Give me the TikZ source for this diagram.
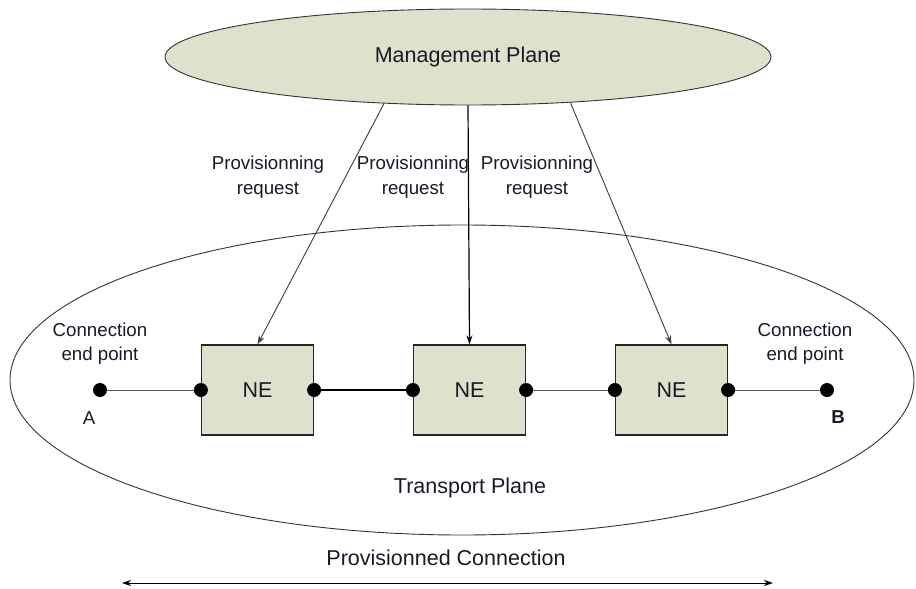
\documentclass[tikz,border=0pt]{standalone}
\usepackage{fontspec}
\setmainfont{Liberation Sans}
\usetikzlibrary{shapes.geometric,arrows.meta}
\definecolor{planefill}{RGB}{221,226,204}
\definecolor{txt}{RGB}{25,25,40}
\definecolor{edge}{RGB}{60,60,60}
\tikzset{
  bigtext/.style={font=\fontsize{21.5}{26}\selectfont, text=txt, inner sep=0pt},
  smalltext/.style={font=\fontsize{18.7}{24.5}\selectfont, text=txt, inner sep=0pt, align=center},
  nebox/.style={draw=black!85, line width=1.2pt, fill=planefill, minimum width=112pt, minimum height=90pt, inner sep=0pt, font=\fontsize{21.5}{26}\selectfont, text=txt},
  portdot/.style={circle, fill=black, minimum size=14pt, inner sep=0pt},
  req/.style={draw=edge, line width=0.9pt, -{Stealth[length=9pt,width=6pt]}},
  thinlink/.style={draw=black!65, line width=1pt},
  thicklink/.style={draw=black, line width=2pt}
}
\begin{document}
\begin{tikzpicture}[x=1pt,y=-1pt]
\useasboundingbox (0,0) rectangle (916,589);
% transport plane
\node[ellipse, draw=black!80, line width=0.9pt, minimum width=904pt, minimum height=310pt, inner sep=0pt] (tp) at (462,380) {};
\node[bigtext] (tpl) at (470,488) {Transport Plane};
% management plane
\node[ellipse, draw=black!80, line width=0.9pt, fill=planefill, minimum width=606pt, minimum height=96pt, inner sep=0pt, bigtext] (mp) at (468,57) {Management Plane};
% NEs
\node[nebox] (ne1) at (257.5,390) {NE};
\node[nebox] (ne2) at (469.5,390) {NE};
\node[nebox] (ne3) at (671.5,390) {NE};
% end points
\node[portdot] (pa) at (100,390) {};
\node[portdot] (pb) at (827,390) {};
\node[smalltext] (la) at (89,418) {A};
\node[smalltext, font=\fontsize{18.7}{24.5}\selectfont\bfseries] (lb) at (838,417) {B};
\node[smalltext] (cepa) at (100,343.5) {Connection\\end point};
\node[smalltext] (cepb) at (805,343.5) {Connection\\end point};
% links
\draw[thinlink] (pa) -- (ne1.west);
\draw[thicklink] (ne1.east) -- (ne2.west);
\draw[thinlink] (ne2.east) -- (ne3.west);
\draw[thinlink] (ne3.east) -- (pb);
% ports
\node[portdot] (p1w) at (ne1.west) {};
\node[portdot] (p1e) at (ne1.east) {};
\node[portdot] (p2w) at (ne2.west) {};
\node[portdot] (p2e) at (ne2.east) {};
\node[portdot] (p3w) at (ne3.west) {};
\node[portdot] (p3e) at (ne3.east) {};
% provisioning requests
\draw[req] (mp.209) -- (ne1.north);
\draw[req, line width=1.2pt, draw=black] (mp.south) -- (ne2.north);
\draw[req] (mp.336) -- (ne3.north);
\node[smalltext] (r1) at (268,177) {Provisionning\\request};
\node[smalltext] (r2) at (413,177) {Provisionning\\request};
\node[smalltext] (r3) at (537,177) {Provisionning\\request};
% provisioned connection
\node[bigtext] (pcl) at (446,558) {Provisionned Connection};
\coordinate (pcs) at (122,583);
\coordinate (pce) at (773,583);
\draw[draw=black, line width=1pt, {Stealth[length=9pt,width=6pt]}-{Stealth[length=9pt,width=6pt]}] (pcs) -- (pce);
\end{tikzpicture}
\end{document}
